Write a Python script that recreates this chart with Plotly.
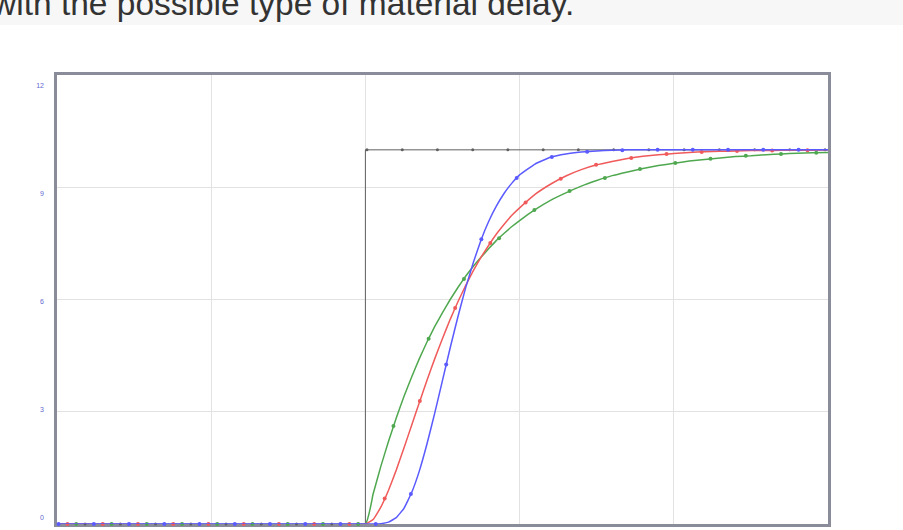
import plotly.graph_objects as go

# ---- data ----
caption = "with the possible type of material delay."

# step input (black)
step_x = [0, 20, 20, 50]
step_y = [0, 0, 10, 10]

# sample times for the delay curves
line_t = [0, 20, 20.5, 21, 21.5, 22, 22.5, 23, 23.5, 24, 24.5, 25, 25.5, 26, 26.5, 27,
          27.5, 28, 28.5, 29, 29.5, 30, 31, 32, 33, 34, 35, 36, 37, 38, 39, 40, 41, 42,
          43, 44, 45, 46, 47, 48, 49, 50]

green_y = [0, 0, 0.80, 1.54, 2.21, 2.83, 3.41, 3.93, 4.42, 4.87, 5.28, 5.65, 6.00, 6.32,
           6.62, 6.89, 7.13, 7.36, 7.58, 7.77, 7.95, 8.11, 8.40, 8.65, 8.85, 9.03, 9.18,
           9.31, 9.41, 9.50, 9.58, 9.64, 9.70, 9.74, 9.78, 9.82, 9.84, 9.87, 9.89, 9.91,
           9.92, 9.93]
red_y = [0, 0, 0.12, 0.45, 0.90, 1.44, 2.03, 2.64, 3.25, 3.85, 4.42, 4.96, 5.47, 5.94,
         6.37, 6.77, 7.13, 7.45, 7.75, 8.01, 8.25, 8.45, 8.81, 9.08, 9.30, 9.47, 9.60,
         9.69, 9.77, 9.83, 9.87, 9.90, 9.93, 9.95, 9.96, 9.97, 9.98, 9.98, 9.99, 9.99,
         9.99, 10.0]
blue_y = [0, 0, 0.00, 0.01, 0.05, 0.17, 0.42, 0.84, 1.42, 2.15, 2.97, 3.84, 4.71, 5.54,
          6.31, 6.99, 7.59, 8.09, 8.50, 8.84, 9.11, 9.33, 9.62, 9.80, 9.89, 9.94, 9.97,
          9.99, 10.0, 10.0, 10.0, 10.0, 10.0, 10.0, 10.0, 10.0, 10.0, 10.0, 10.0, 10.0,
          10.0, 10.0]

# marker positions on each curve
blue_mx = [0.10, 2.39, 4.67, 6.96, 9.24, 11.53, 13.81, 16.10, 18.38, 20.67, 22.95, 25.24,
           27.52, 29.81, 32.09, 34.38, 36.66, 38.95, 41.23, 43.52, 45.80, 48.09]
blue_my = [0, 0, 0, 0, 0, 0, 0, 0, 0, 0.00, 0.80, 4.26, 7.61, 9.25, 9.81, 9.95, 9.99,
           10.0, 10.0, 10.0, 10.0, 10.0]
red_mx = [0.68, 2.97, 5.25, 7.54, 9.82, 12.11, 14.39, 16.68, 18.96, 21.25, 23.53, 25.82,
          28.10, 30.39, 32.67, 34.96, 37.24, 39.53, 41.81, 44.10, 46.38, 48.67]
red_my = [0, 0, 0, 0, 0, 0, 0, 0, 0, 0.68, 3.29, 5.77, 7.51, 8.59, 9.23, 9.60, 9.78,
          9.89, 9.94, 9.97, 9.98, 9.99]
green_mx = [1.25, 3.54, 5.82, 8.11, 10.39, 12.68, 14.96, 17.25, 19.53, 21.82, 24.10, 26.39,
            28.67, 30.96, 33.24, 35.53, 37.81, 40.10, 42.38, 44.67, 46.95, 49.24]
green_my = [0, 0, 0, 0, 0, 0, 0, 0, 0, 2.62, 4.95, 6.55, 7.64, 8.39, 8.90, 9.25, 9.49,
            9.65, 9.76, 9.84, 9.89, 9.92]
black_mx = [1.82, 4.11, 6.39, 8.68, 10.96, 13.25, 15.53, 17.82, 20.10, 22.39, 24.67, 26.96,
            29.24, 31.53, 33.81, 36.10, 38.38, 40.67, 42.95, 45.24, 47.52, 49.81]
black_my = [0, 0, 0, 0, 0, 0, 0, 0, 10, 10, 10, 10, 10, 10, 10, 10, 10, 10, 10, 10, 10, 10]

y_ticks = [0, 3, 6, 9, 12]
y_tick_text = ["0", "3", "6", "9", "12"]

# ---- styles ----
C_BLACK = "#606060"
C_GREEN = "#4fa84f"
C_RED = "#f05a5a"
C_BLUE = "#5a5aff"

fig = go.Figure()

fig.add_trace(go.Scatter(x=step_x, y=step_y, mode="lines",
                         line=dict(color=C_BLACK, width=1), cliponaxis=False))
fig.add_trace(go.Scatter(x=black_mx, y=black_my, mode="markers",
                         marker=dict(color=C_BLACK, size=3), cliponaxis=False))

for ly, mx, my, col in [(green_y, green_mx, green_my, C_GREEN),
                        (red_y, red_mx, red_my, C_RED),
                        (blue_y, blue_mx, blue_my, C_BLUE)]:
    fig.add_trace(go.Scatter(x=line_t, y=ly, mode="lines",
                             line=dict(color=col, width=1.5, shape="spline", smoothing=0.3),
                             cliponaxis=False))
    fig.add_trace(go.Scatter(x=mx, y=my, mode="markers",
                             marker=dict(color=col, size=4), cliponaxis=False))

# transparent trace so the label axis is drawn
fig.add_trace(go.Scatter(x=[0], y=[0], yaxis="y2", mode="markers",
                         marker=dict(opacity=0), hoverinfo="skip"))

fig.update_layout(
    width=903, height=530,
    margin=dict(l=57, r=75, t=75, b=6, autoexpand=False),
    paper_bgcolor="white", plot_bgcolor="white",
    showlegend=False,
    xaxis=dict(range=[0, 50], dtick=10, showgrid=True, gridcolor="#e2e2e2", gridwidth=1,
               zeroline=False, showticklabels=False, ticks="",
               showline=True, mirror=True, linecolor="#8a8d99", linewidth=3,
               layer="below traces", automargin=False),
    yaxis=dict(range=[0, 12], dtick=3, showgrid=True, gridcolor="#e2e2e2", gridwidth=1,
               zeroline=False, showticklabels=False, ticks="",
               showline=True, mirror=True, linecolor="#8a8d99", linewidth=3,
               layer="below traces", automargin=False),
    yaxis2=dict(overlaying="y", side="left", range=[-0.18, 12.28],
                tickvals=y_ticks, ticktext=y_tick_text, showgrid=False, zeroline=False,
                showline=False, ticks="", ticklabelstandoff=12, automargin=False,
                tickfont=dict(size=7, color="#5f6ad0", family="Liberation Sans")),
    shapes=[dict(type="rect", xref="paper", yref="paper",
                 x0=-0.1, x1=1.2, y0=1 + 50 / 449, y1=1.3,
                 fillcolor="#f7f7f7", line=dict(width=0), layer="below")],
    annotations=[dict(text=caption, xref="paper", yref="paper",
                      x=-11 / 771 - 57 / 771, y=1 + 51 / 449,
                      xanchor="left", yanchor="bottom", showarrow=False,
                      font=dict(family="Liberation Sans", size=33.5, color="#333333"))],
)

fig.write_html("out.html", config={"displayModeBar": False},
               post_script="document.body.style.margin='0';document.body.style.padding='0';")
